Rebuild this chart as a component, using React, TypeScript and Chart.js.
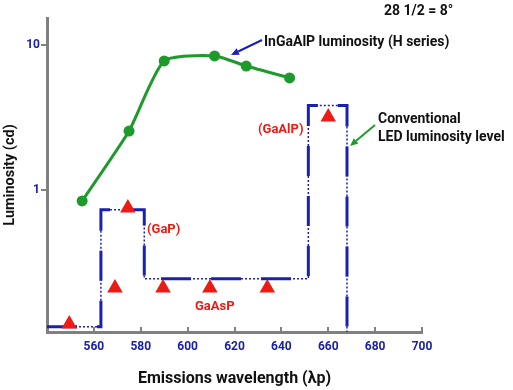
import React, { useEffect, useRef } from 'react';
import { Chart, registerables } from 'chart.js';

Chart.register(...registerables);

// ---- data ----
const xTickValues = [540, 560, 580, 600, 620, 640, 660, 680, 700];
const yTickValues = [1, 10];

const ingaalpWavelength = [555, 575, 590, 611.5, 625, 643.5];
const ingaalpLuminosity = [0.84, 2.55, 7.76, 8.4, 7.16, 5.93];

const ledWavelength = [549.5, 569, 574.5, 589.5, 609.5, 634, 660];
const ledLuminosity = [0.119, 0.211, 0.75, 0.211, 0.211, 0.211, 3.19];

const levelWavelength = [540, 563, 581.5, 651.5, 668];
const levelLuminosity = [0.114, 0.73, 0.244, 3.82, 0.1];

const BLUE = '#1b20b4';
const TICKBLUE = '#1c22a6';
const GREEN = '#1e9a2c';
const RED = '#ee1a14';
const GRAY = '#808080';
const FONT = 'Roboto, "Liberation Sans", sans-serif';

function arrow(ctx: CanvasRenderingContext2D, x1: number, y1: number, x2: number, y2: number, color: string) {
  ctx.save();
  ctx.strokeStyle = color;
  ctx.fillStyle = color;
  ctx.lineWidth = 2;
  const ang = Math.atan2(y2 - y1, x2 - x1);
  const hl = 8;
  const bx = x2 - Math.cos(ang) * hl;
  const by = y2 - Math.sin(ang) * hl;
  ctx.beginPath();
  ctx.moveTo(x1, y1);
  ctx.lineTo(bx, by);
  ctx.stroke();
  ctx.beginPath();
  ctx.moveTo(x2, y2);
  ctx.lineTo(bx + Math.sin(ang) * 3.5, by - Math.cos(ang) * 3.5);
  ctx.lineTo(bx - Math.sin(ang) * 3.5, by + Math.cos(ang) * 3.5);
  ctx.closePath();
  ctx.fill();
  ctx.restore();
}

const annotations = {
  id: 'annotations',
  afterDatasetsDraw(chart: any) {
    const ctx: CanvasRenderingContext2D = chart.ctx;
    ctx.save();
    ctx.textBaseline = 'middle';
    ctx.textAlign = 'left';
    ctx.fillStyle = '#111';
    ctx.font = `bold 14px ${FONT}`;
    ctx.fillText('28 1/2 = 8°', 384, 11);
    ctx.fillText('InGaAlP luminosity (H series)', 264, 42);
    ctx.fillText('Conventional', 378, 119);
    ctx.fillText('LED luminosity level', 378, 137);
    ctx.fillStyle = RED;
    ctx.font = `bold 13px ${FONT}`;
    ctx.fillText('(GaAlP)', 258, 130);
    ctx.fillText('(GaP)', 147, 230);
    ctx.fillText('GaAsP', 195, 307);
    ctx.restore();
    arrow(ctx, 262, 40, 231, 55, BLUE);
    arrow(ctx, 375, 125, 350, 146, GREEN);
  },
};

export default function App() {
  const ref = useRef<HTMLCanvasElement | null>(null);
  useEffect(() => {
    if (!ref.current) return;
    const levelData = levelWavelength.map((x, i) => ({ x, y: levelLuminosity[i] }));
    const chart = new Chart(ref.current, {
      type: 'line',
      data: {
        datasets: [
          {
            label: 'InGaAlP',
            data: ingaalpWavelength.map((x, i) => ({ x, y: ingaalpLuminosity[i] })),
            borderColor: GREEN,
            backgroundColor: GREEN,
            borderWidth: 3,
            pointRadius: 5.5,
            pointBorderWidth: 0,
            tension: 0.2,
            order: 0,
          },
          {
            label: 'LED',
            data: ledWavelength.map((x, i) => ({ x, y: ledLuminosity[i] })),
            showLine: false,
            pointStyle: 'triangle',
            pointRadius: 9,
            pointBorderWidth: 0,
            backgroundColor: RED,
            borderColor: RED,
            order: 1,
          },
          {
            label: 'level-solid',
            data: levelData,
            stepped: 'before',
            borderColor: BLUE,
            borderWidth: 3,
            borderDash: [30, 20],
            pointRadius: 0,
            order: 2,
          },
          {
            label: 'level-dotted',
            data: levelData,
            stepped: 'before',
            borderColor: BLUE,
            borderWidth: 1.5,
            borderDash: [2, 2],
            pointRadius: 0,
            order: 3,
          },
        ],
      } as any,
      options: {
        responsive: false,
        animation: false,
        devicePixelRatio: 1,
        layout: { padding: { top: 18, right: 91, left: 0, bottom: 0 } },
        plugins: { legend: { display: false }, tooltip: { enabled: false } },
        scales: {
          x: {
            type: 'linear',
            min: 540,
            max: 700,
            afterBuildTicks: (s: any) => {
              s.ticks = xTickValues.map((v) => ({ value: v }));
            },
            afterFit: (s: any) => {
              s.height = 58;
            },
            ticks: {
              autoSkip: false,
              maxRotation: 0,
              color: TICKBLUE,
              padding: 13,
              font: { family: FONT, weight: 'bold', size: 12 },
              callback: (v: any) => (v === 540 ? '' : String(v)),
            },
            grid: { drawOnChartArea: false, drawTicks: true, tickLength: -5, color: GRAY, lineWidth: 2 },
            border: { display: true, color: GRAY, width: 3 },
            title: {
              display: true,
              text: 'Emissions wavelength (λp)',
              color: '#111',
              font: { family: FONT, weight: 'bold', size: 16 },
              padding: { top: 0, bottom: 1 },
            },
          },
          y: {
            type: 'logarithmic',
            min: 0.1049,
            max: 15.35,
            bounds: 'data',
            afterBuildTicks: (s: any) => {
              s.ticks = yTickValues.map((v) => ({ value: v }));
            },
            afterFit: (s: any) => {
              s.width = 47;
            },
            ticks: {
              color: TICKBLUE,
              padding: 1,
              font: { family: FONT, weight: 'bold', size: 12 },
              callback: (v: any) => String(v),
            },
            grid: { drawOnChartArea: false, drawTicks: true, tickLength: 6, color: GRAY, lineWidth: 2 },
            border: { display: true, color: GRAY, width: 3 },
            title: {
              display: true,
              text: 'Luminosity (cd)',
              color: '#111',
              font: { family: FONT, weight: 'bold', size: 14.5 },
              padding: { top: 2, bottom: 0 },
            },
          },
        },
      } as any,
      plugins: [annotations],
    });
    return () => chart.destroy();
  }, []);
  return (
    <div style={{ position: 'fixed', left: 0, top: 0, width: 513, height: 390, background: '#fff' }}>
      <canvas ref={ref} width={513} height={390} style={{ display: 'block' }} />
    </div>
  );
}
